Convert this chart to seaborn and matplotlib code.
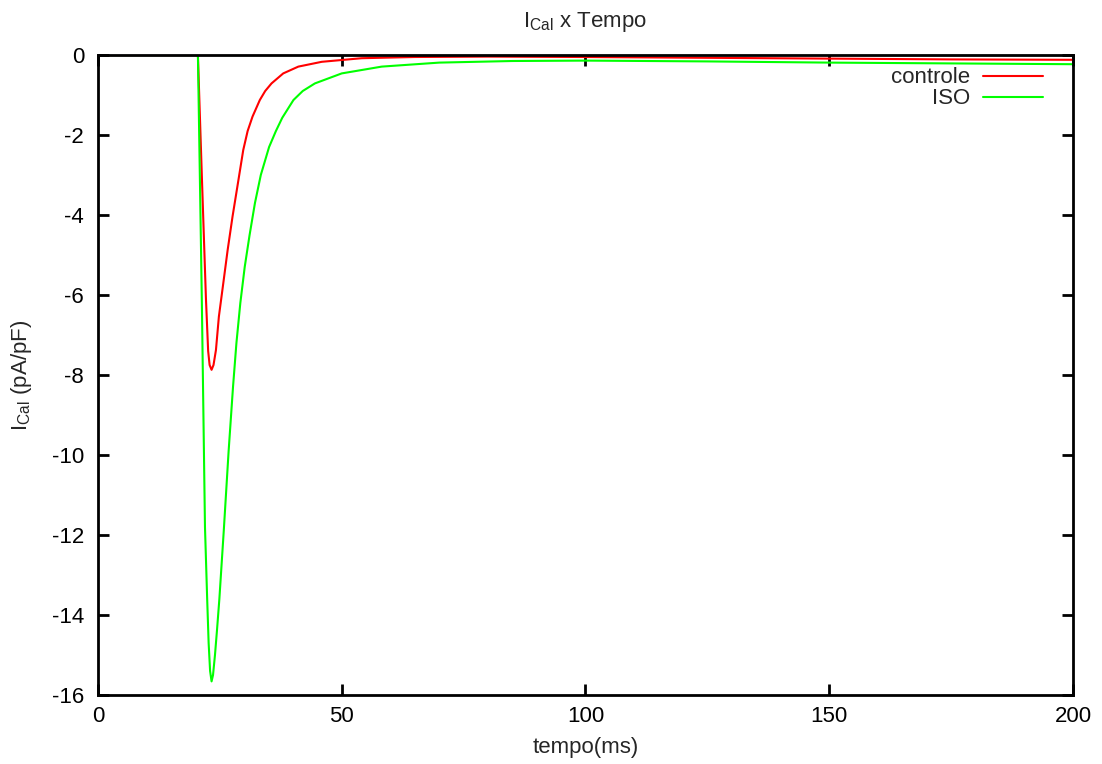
import matplotlib
matplotlib.use("Agg")
import matplotlib.pyplot as plt
import seaborn as sns

# values (time in ms, current in pA/pF)
t_controle = [0, 20, 20.5, 21.3, 22.15, 22.6, 22.9, 23.3, 23.7, 24.2, 24.8, 25.7, 26.6, 27.6,
              28.7, 29.8, 30.7, 31.7, 33.2, 34.3, 35.6, 38.0, 41.1, 45.9, 54.1, 65, 80, 100,
              125, 150, 175, 200]
i_controle = [0, 0, 0, -3.0, -6.1, -7.4, -7.75, -7.87, -7.75, -7.375, -6.54, -5.71, -4.875, -4.04,
              -3.21, -2.375, -1.9, -1.54, -1.125, -0.9, -0.71, -0.46, -0.29, -0.17, -0.08, -0.05, -0.04, -0.05,
              -0.07, -0.09, -0.11, -0.12]

t_iso = [0, 20, 20.5, 21.3, 21.95, 22.4, 22.7, 23.0, 23.3, 23.6, 24.0, 24.4, 24.9, 25.8, 26.8,
         27.7, 28.4, 29.2, 30.1, 31.1, 32.2, 33.4, 35.1, 36.5, 37.8, 40.1, 42.0, 44.5, 50.0,
         58.2, 70, 85, 100, 125, 150, 175, 200]
i_iso = [0, 0, 0, -6.1, -11.8, -13.6, -14.7, -15.4, -15.66, -15.5, -15.0, -14.4, -13.6, -11.9, -9.9,
         -8.3, -7.2, -6.2, -5.3, -4.5, -3.7, -3.0, -2.3, -1.9, -1.57, -1.125, -0.9, -0.71, -0.46,
         -0.29, -0.19, -0.15, -0.14, -0.16, -0.19, -0.21, -0.23]

x_ticks = [0, 50, 100, 150, 200]
y_ticks = [0, -2, -4, -6, -8, -10, -12, -14, -16]

sns.set_style("white")
plt.rcParams['font.family'] = ['Liberation Sans', 'DejaVu Sans']
plt.rcParams['mathtext.default'] = 'regular'
plt.rcParams['axes.unicode_minus'] = False

fig = plt.figure(figsize=(11.02, 7.64), dpi=100)
ax = fig.add_axes([0.0889, 0.0903, 0.8848, 0.8377])

sns.lineplot(x=t_controle, y=i_controle, color="#ff0000", linewidth=1.5,
             label="controle", estimator=None, sort=False, ax=ax)
sns.lineplot(x=t_iso, y=i_iso, color="#00ff00", linewidth=1.5,
             label="ISO", estimator=None, sort=False, ax=ax)

ax.set_xlim(0, 200)
ax.set_ylim(-16, 0)
ax.set_xticks(x_ticks)
ax.set_yticks(y_ticks)
ax.tick_params(direction="in", length=8, width=2, top=True, right=True,
               bottom=True, left=True, labelsize=16, color="black", labelcolor="black")
ax.tick_params(axis="x", pad=8)
ax.tick_params(axis="y", pad=10)
for s in ax.spines.values():
    s.set_linewidth(2)
    s.set_color("black")

ax.set_title("I$_{Cal}$ x Tempo", fontsize=16, pad=20)
ax.set_xlabel("tempo(ms)", fontsize=16)
ax.set_ylabel("I$_{Cal}$ (pA/pF)", fontsize=16)
ax.xaxis.set_label_coords(0.5, -0.066)
ax.yaxis.set_label_coords(-0.066, 0.5)

ax.legend(loc="upper right", bbox_to_anchor=(0.99, 1.012), frameon=False,
          markerfirst=False, fontsize=16, handlelength=2.7, handletextpad=0.6,
          labelspacing=0.0)

fig.savefig("out.png", dpi=100)
